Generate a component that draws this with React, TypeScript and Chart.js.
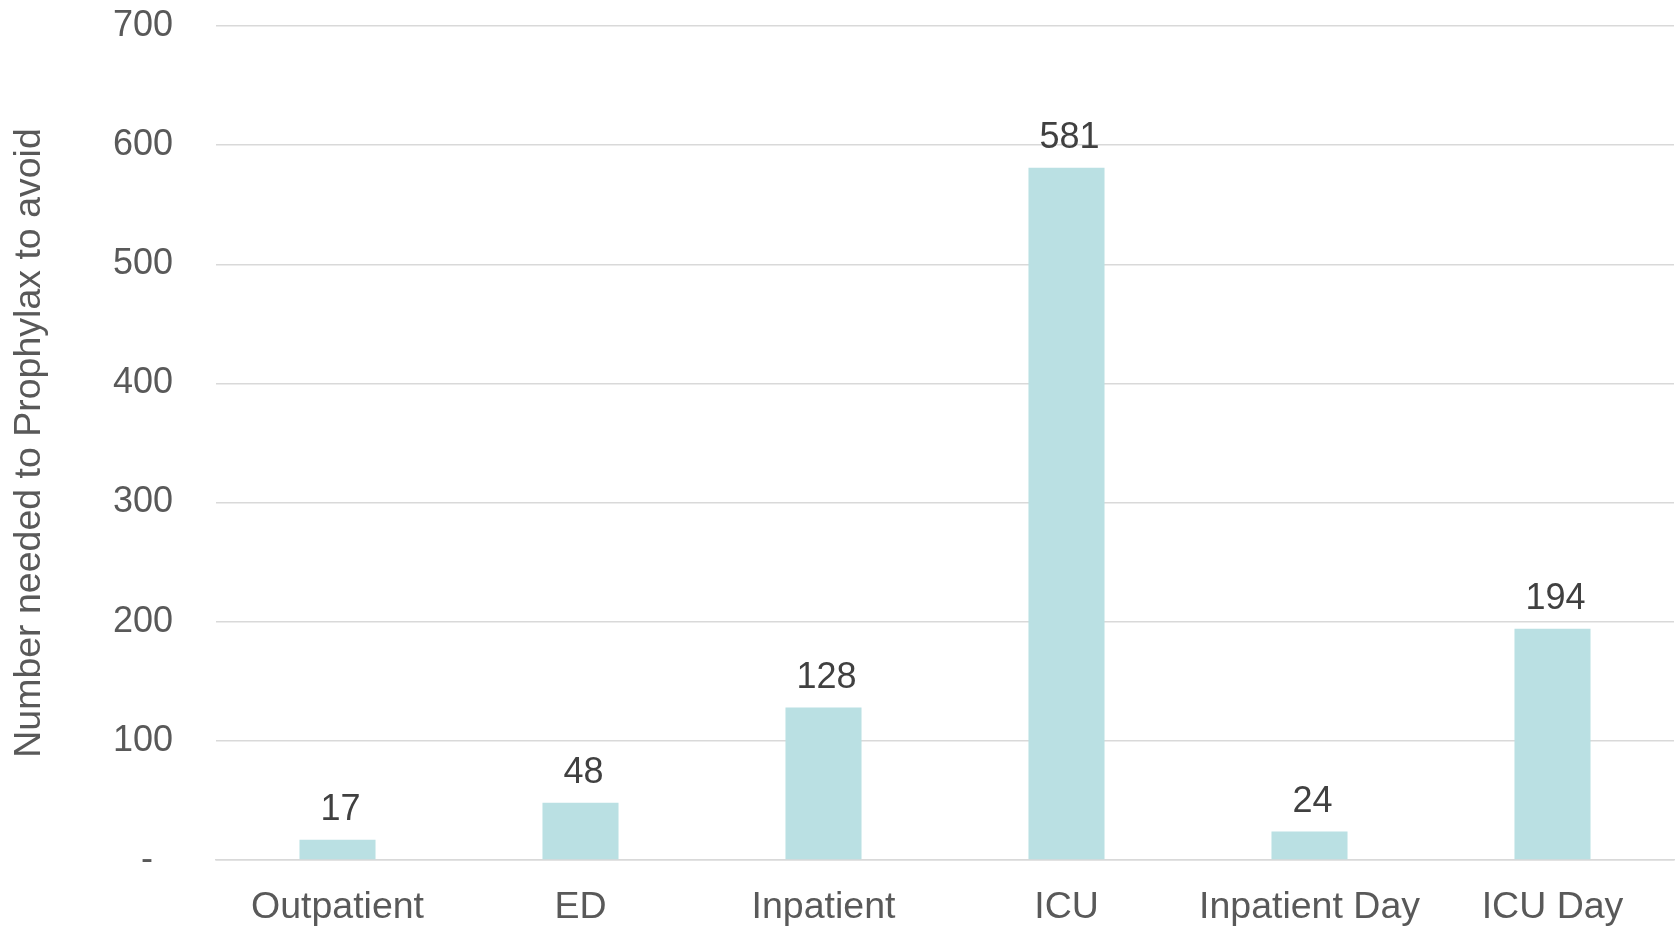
import React, { useEffect, useRef } from "react";
import { Chart, registerables } from "chart.js";

Chart.register(...registerables);

const categories = ["Outpatient", "ED", "Inpatient", "ICU", "Inpatient Day", "ICU Day"];
const values = [17, 48, 128, 581, 24, 194];
const yTickValues = [0, 100, 200, 300, 400, 500, 600, 700];
const yTickLabels = ["-  ", "100", "200", "300", "400", "500", "600", "700"];
const yTitle = "Number needed to Prophylax to avoid";

const FONT = "'Liberation Sans', Arial, sans-serif";

const dataLabels = {
  id: "dataLabels",
  afterDatasetsDraw(chart: any) {
    const ctx = chart.ctx;
    const meta = chart.getDatasetMeta(0);
    ctx.save();
    ctx.font = `36px ${FONT}`;
    ctx.fillStyle = "#404040";
    ctx.textAlign = "center";
    ctx.textBaseline = "alphabetic";
    meta.data.forEach((bar: any, i: number) => {
      ctx.fillText(String(values[i]), bar.x + 3, bar.y - 19.5);
    });
    ctx.restore();
  },
};

export default function App() {
  const ref = useRef<HTMLCanvasElement>(null);
  useEffect(() => {
    document.body.style.margin = "0";
    const chart = new Chart(ref.current!, {
      type: "bar",
      data: {
        labels: categories,
        datasets: [
          {
            data: values,
            backgroundColor: "#BAE0E3",
            borderWidth: 0,
            categoryPercentage: 1,
            barPercentage: 0.313,
          },
        ],
      },
      options: {
        animation: false,
        responsive: false,
        devicePixelRatio: 1,
        layout: { padding: { top: 26, right: 3, bottom: 0, left: 0 } },
        plugins: { legend: { display: false }, tooltip: { enabled: false } },
        scales: {
          x: {
            grid: { display: false },
            border: { display: true, color: "#d9d9d9", width: 1.5 },
            ticks: {
              color: "#595959",
              font: { family: FONT, size: 37.5 },
              padding: 17,
              maxRotation: 0,
            },
            afterFit(scale: any) {
              scale.height = 66;
              scale.paddingLeft = 0;
              scale.paddingRight = 0;
            },
          },
          y: {
            min: 0,
            max: 700,
            afterBuildTicks(scale: any) {
              scale.ticks = yTickValues.map((v) => ({ value: v }));
            },
            grid: { color: "#d9d9d9", lineWidth: 1.5, drawTicks: false },
            border: { display: false },
            ticks: {
              color: "#595959",
              font: { family: FONT, size: 36 },
              padding: 43,
              callback: (v: any) => yTickLabels[yTickValues.indexOf(Number(v))] ?? "",
            },
            title: {
              display: true,
              text: yTitle,
              color: "#595959",
              font: { family: FONT, size: 37.5 },
              padding: { top: 7, bottom: 0 },
            },
            afterFit(scale: any) {
              scale.width = 216;
              scale.paddingTop = 0;
              scale.paddingBottom = 0;
            },
          },
        },
      },
      plugins: [dataLabels],
    });
    return () => chart.destroy();
  }, []);
  return (
    <div style={{ width: 1677, height: 926 }}>
      <canvas ref={ref} width={1677} height={926} style={{ display: "block" }} />
    </div>
  );
}
